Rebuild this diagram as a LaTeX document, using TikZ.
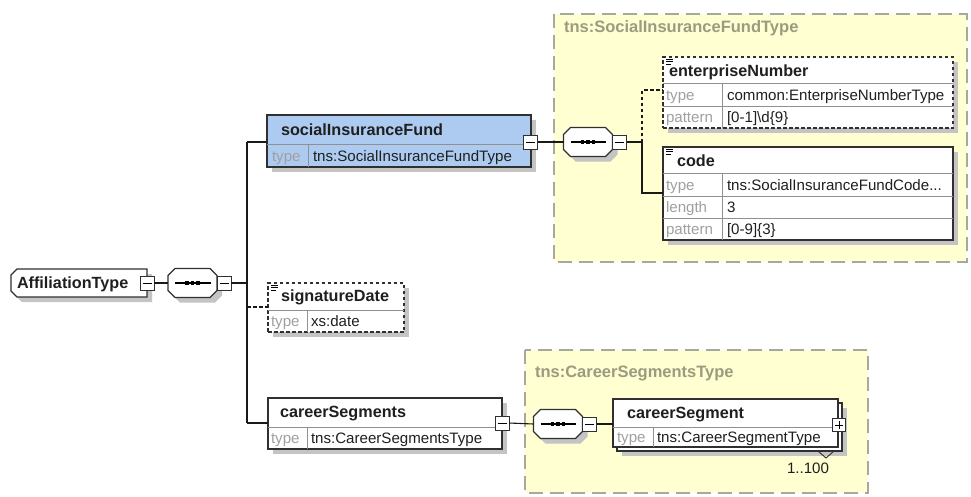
\documentclass[tikz,border=0pt]{standalone}
\usepackage{fontspec}
\setmainfont{Liberation Sans}
\usetikzlibrary{calc}
\definecolor{sifblue}{HTML}{ADCBF0}
\definecolor{grpyellow}{HTML}{FFFFD2}
\definecolor{grpborder}{HTML}{A8A8A0}
\definecolor{grplabel}{HTML}{9B9B80}
\definecolor{shadowc}{HTML}{C4C4C4}
\definecolor{divc}{HTML}{909090}
\definecolor{lblc}{HTML}{A0A0A0}
\definecolor{boxc}{HTML}{303030}
\tikzset{
  every node/.style={inner sep=0pt, outer sep=0pt},
  txt/.style={anchor=base west, font=\fontsize{15.1}{18}\selectfont, text=black!88},
  nametxt/.style={txt, font=\fontsize{16.2}{18}\selectfont\bfseries},
  lbltxt/.style={txt, text=lblc},
  grptxt/.style={anchor=base west, font=\fontsize{16.5}{18}\selectfont\bfseries, text=grplabel},
  grpbox/.style={fill=grpyellow, draw=grpborder, line width=1.2pt, dash pattern=on 14pt off 7pt},
  elbox/.style={draw=boxc, line width=1.2pt, fill=white},
  optbox/.style={elbox, dash pattern=on 3.5pt off 2.5pt},
  divline/.style={draw=divc, line width=0.9pt},
  shadowbox/.style={fill=shadowc},
  conn/.style={draw=black!90, line width=1.1pt},
  optconn/.style={conn, dash pattern=on 3.5pt off 2.5pt},
  pmbox/.style={draw=boxc, line width=1pt, fill=white, minimum width=14pt, minimum height=14pt},
}
% sequence compositor: name, cx, cy
\newcommand\seqcomp[3]{%
  \fill[shadowc] ({#2-24.5+5},{#3-14.5+7+5}) -- ({#2-24.5+7+5},{#3-14.5+5}) -- ({#2+24.5-7+5},{#3-14.5+5}) -- ({#2+24.5+5},{#3-14.5+7+5}) -- ({#2+24.5+5},{#3+14.5-7+5}) -- ({#2+24.5-7+5},{#3+14.5+5}) -- ({#2-24.5+7+5},{#3+14.5+5}) -- ({#2-24.5+5},{#3+14.5-7+5}) -- cycle;
  \draw[elbox] ({#2-24.5},{#3-14.5+7}) -- ({#2-24.5+7},{#3-14.5}) -- ({#2+24.5-7},{#3-14.5}) -- ({#2+24.5},{#3-14.5+7}) -- ({#2+24.5},{#3+14.5-7}) -- ({#2+24.5-7},{#3+14.5}) -- ({#2-24.5+7},{#3+14.5}) -- ({#2-24.5},{#3+14.5-7}) -- cycle;
  \node[minimum width=49pt, minimum height=29pt] (#1) at (#2,#3) {};
  \draw[line width=1.1pt] ({#2-17.5},#3) -- ({#2+18},#3);
  \foreach \dx in {-5.5,0,5.5} \fill ({#2+\dx-1.8},{#3-1.8}) rectangle ({#2+\dx+1.8},{#3+1.8});
  \node[pmbox] (#1m) at ({#2+31.5},#3) {};
  \draw[line width=1pt] ({#2+31.5-4.5},#3) -- ({#2+31.5+4.5},#3);
}
\newcommand\minusbox[3]{%
  \node[pmbox] (#1) at (#2,#3) {};
  \draw[line width=1pt] ({#2-4.5},#3) -- ({#2+4.5},#3);
}
\newcommand\simpleicon[2]{%
  \draw[line width=0.9pt] (#1,#2) -- ({#1+7},#2) (#1,{#2+2.5}) -- ({#1+7},{#2+2.5}) (#1,{#2+5}) -- ({#1+5},{#2+5});
}
\begin{document}
\begin{tikzpicture}[x=1pt,y=-1pt]
\useasboundingbox[fill=white] (0,0) rectangle (971,496);

% ---------- groups ----------
\draw[grpbox] (554,14) rectangle (967,262);
\node[grptxt] (g1lbl) at (564,32) {tns:SocialInsuranceFundType};
\draw[grpbox] (525,350) rectangle (868,493);
\node[grptxt] (g2lbl) at (535,377) {tns:CareerSegmentsType};

% ---------- AffiliationType ----------
\fill[shadowc] (16,280) -- (22,274) -- (152,274) -- (152,302) -- (22,302) -- (16,296) -- cycle;
\draw[elbox] (11,275) -- (17,269) -- (147,269) -- (147,297) -- (17,297) -- (11,291) -- cycle;
\node[minimum width=136pt, minimum height=28pt] (aff) at (79,283) {};
\node[nametxt] (afft) at (17,288) {AffiliationType};
\minusbox{affm}{147}{283}

\seqcomp{c1}{192.5}{283}

% ---------- socialInsuranceFund ----------
\fill[shadowc] (272,120) rectangle (536,172);
\node[elbox, fill=sifblue, anchor=north west, minimum width=264pt, minimum height=52pt] (sif) at (267,115) {};
\draw[divline] (267,144) -- (531,144);
\draw[divline] (308,144) -- (308,167);
\node[nametxt] (sift) at (281,135) {socialInsuranceFund};
\node[lbltxt] (sifl) at (272,161) {type};
\node[txt] (sifv) at (313,161) {tns:SocialInsuranceFundType};
\minusbox{sifm}{530.5}{142}

% ---------- signatureDate ----------
\fill[shadowc] (273,288) rectangle (409,337);
\node[optbox, anchor=north west, minimum width=136pt, minimum height=49pt] (sig) at (268,283) {};
\draw[divline] (268,310) -- (404,310);
\draw[divline] (307,310) -- (307,332);
\simpleicon{271}{285}
\node[nametxt] (sigt) at (281,301) {signatureDate};
\node[lbltxt] (sigl) at (271,326) {type};
\node[txt] (sigv) at (311,326) {xs:date};

% ---------- careerSegments ----------
\fill[shadowc] (273,403) rectangle (507,454);
\node[elbox, anchor=north west, minimum width=234pt, minimum height=51pt] (cs) at (268,398) {};
\draw[divline] (268,427) -- (502,427);
\draw[divline] (307,427) -- (307,449);
\node[nametxt] (cst) at (280,417) {careerSegments};
\node[lbltxt] (csl) at (271,443) {type};
\node[txt] (csv) at (311,443) {tns:CareerSegmentsType};
\minusbox{csm}{502}{423}

% ---------- main connectors ----------
\coordinate (v1top) at (247,142);
\coordinate (v1mid) at (247,283);
\coordinate (v1sig) at (247,307);
\coordinate (v1bot) at (247,423);
\draw[conn] (affm.east) -- (c1.west);
\draw[conn] (c1m.east) -- (v1mid);
\draw[conn] (v1top) -- (v1bot);
\draw[conn] (v1top) -- (sif.west |- v1top);
\draw[optconn] (v1sig) -- (sig.west |- v1sig);
\draw[conn] (v1bot) -- (cs.west |- v1bot);

% ---------- inside SocialInsuranceFundType ----------
\seqcomp{c2}{588}{142}
\draw[conn] (sifm.east) -- (c2.west);

% enterpriseNumber
\fill[shadowc] (668,62) rectangle (958,133);
\node[optbox, anchor=north west, minimum width=290pt, minimum height=71pt] (en) at (663,57) {};
\draw[divline] (663,83) -- (953,83);
\draw[divline] (663,106) -- (953,106);
\draw[divline] (722,83) -- (722,128);
\simpleicon{666}{59}
\node[nametxt] (ent) at (669,76) {enterpriseNumber};
\node[lbltxt] (enl1) at (666,100) {type};
\node[txt] (env1) at (727,100) {common:EnterpriseNumberType};
\node[lbltxt] (enl2) at (666,122) {pattern};
\node[txt] (env2) at (727,122) {[0-1]\textbackslash d\{9\}};

% code
\fill[shadowc] (668,152) rectangle (958,245);
\node[elbox, anchor=north west, minimum width=290pt, minimum height=93pt] (cd) at (663,147) {};
\draw[divline] (663,173) -- (953,173);
\draw[divline] (663,196) -- (953,196);
\draw[divline] (663,218) -- (953,218);
\draw[divline] (722,173) -- (722,240);
\simpleicon{666}{149}
\node[nametxt] (cdt) at (677,166) {code};
\node[lbltxt] (cdl1) at (666,190) {type};
\node[txt] (cdv1) at (727,190) {tns:SocialInsuranceFundCode...};
\node[lbltxt] (cdl2) at (666,212) {length};
\node[txt] (cdv2) at (727,212) {3};
\node[lbltxt] (cdl3) at (666,234) {pattern};
\node[txt] (cdv3) at (727,234) {[0-9]\{3\}};

\coordinate (v2top) at (642,90);
\coordinate (v2mid) at (642,142);
\coordinate (v2bot) at (642,193);
\draw[conn] (c2m.east) -- (v2mid);
\draw[optconn] (v2mid) -- (v2top) -- (en.west |- v2top);
\draw[conn] (v2mid) -- (v2bot) -- (cd.west |- v2bot);

% ---------- inside CareerSegmentsType ----------
\seqcomp{c3}{558}{424}
\draw[conn] (csm.east) -- (c3.west);

\fill[shadowc] (622,408) rectangle (847,456);
\draw[elbox] (617,403) rectangle (842,451);
\node[elbox, anchor=north west, minimum width=225pt, minimum height=48pt] (seg) at (613,399) {};
\draw[divline] (613,427) -- (838,427);
\draw[divline] (653,427) -- (653,447);
\node[nametxt] (segt) at (627,418) {careerSegment};
\node[lbltxt] (segl) at (617,442) {type};
\node[txt] (segv) at (657,442) {tns:CareerSegmentType};
\node[pmbox, minimum width=13pt, minimum height=13pt] (segp) at (839,425) {};
\draw[line width=1pt] (835,425) -- (843,425) (839,421) -- (839,429);
\draw[line width=0.9pt, draw=boxc] (818,451) -- (826,458) -- (834,451);
\node[txt] (segmult) at (787,473) {1..100};
\draw[conn] (c3m.east) -- (seg.west |- c3m.east);

\end{tikzpicture}
\end{document}
